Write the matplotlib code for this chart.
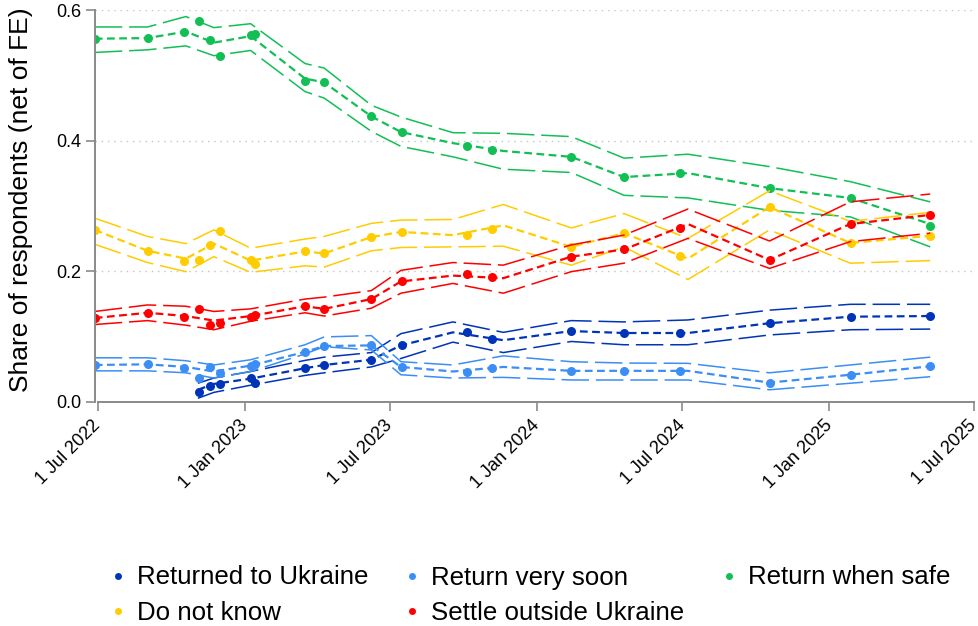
import numpy as np
import pandas as pd
import matplotlib
matplotlib.use("Agg")
import matplotlib.pyplot as plt
import matplotlib.dates as mdates
from matplotlib.lines import Line2D

plt.rcParams['font.family'] = ['Liberation Sans', 'DejaVu Sans']

# survey waves: point estimates
point_dates = ['2022-06-27', '2022-09-02', '2022-10-17', '2022-11-04', '2022-11-18',
               '2022-12-01', '2023-01-08', '2023-01-13', '2023-03-17', '2023-04-10',
               '2023-06-08', '2023-07-16', '2023-10-05', '2023-11-06', '2024-02-13',
               '2024-04-19', '2024-06-28', '2024-10-19', '2025-01-28', '2025-05-07']
returned_point_dates = point_dates[3:]

pts_safe = [0.556, 0.557, 0.567, 0.583, 0.554, 0.530, 0.562, 0.564, 0.491, 0.489,
            0.437, 0.413, 0.392, 0.385, 0.375, 0.344, 0.350, 0.327, 0.312, 0.269]
pts_dunno = [0.263, 0.231, 0.215, 0.217, 0.240, 0.262, 0.217, 0.211, 0.230, 0.227,
             0.252, 0.260, 0.255, 0.265, 0.237, 0.258, 0.223, 0.298, 0.243, 0.254]
pts_settle = [0.128, 0.136, 0.130, 0.142, 0.117, 0.121, 0.130, 0.132, 0.146, 0.142,
              0.157, 0.184, 0.196, 0.191, 0.222, 0.233, 0.266, 0.217, 0.272, 0.286]
pts_soon = [0.056, 0.058, 0.051, 0.036, 0.053, 0.044, 0.055, 0.057, 0.076, 0.085,
            0.086, 0.053, 0.045, 0.052, 0.047, 0.047, 0.047, 0.029, 0.041, 0.054]
pts_returned = [0.014, 0.024, 0.027, 0.036, 0.029, 0.051, 0.056, 0.064, 0.086,
                0.107, 0.096, 0.108, 0.105, 0.105, 0.120, 0.130, 0.131]

# fitted lines with confidence bands
line_dates = ['2022-06-27', '2022-09-01', '2022-10-19', '2022-11-23', '2023-01-08',
              '2023-03-17', '2023-04-10', '2023-06-08', '2023-07-15', '2023-09-18',
              '2023-11-20', '2024-02-13', '2024-04-19', '2024-07-08', '2024-10-18',
              '2025-01-27', '2025-05-07']
returned_line_dates = ['2022-11-03'] + line_dates[3:]

safe_mid = [0.556, 0.557, 0.567, 0.550, 0.560, 0.495, 0.489, 0.437, 0.413, 0.396,
            0.384, 0.375, 0.344, 0.350, 0.327, 0.312, 0.272]
safe_hi = [0.574, 0.574, 0.590, 0.573, 0.579, 0.518, 0.511, 0.454, 0.436, 0.412,
           0.411, 0.406, 0.373, 0.379, 0.360, 0.337, 0.306]
safe_lo = [0.535, 0.539, 0.545, 0.530, 0.538, 0.475, 0.465, 0.414, 0.391, 0.375,
           0.356, 0.351, 0.316, 0.312, 0.293, 0.283, 0.237]

dunno_mid = [0.263, 0.231, 0.219, 0.242, 0.216, 0.230, 0.227, 0.252, 0.260, 0.255,
             0.270, 0.237, 0.258, 0.219, 0.298, 0.243, 0.254]
dunno_hi = [0.281, 0.253, 0.242, 0.263, 0.235, 0.249, 0.253, 0.273, 0.278, 0.279,
            0.302, 0.266, 0.288, 0.250, 0.323, 0.276, 0.290]
dunno_lo = [0.241, 0.213, 0.199, 0.222, 0.198, 0.208, 0.206, 0.231, 0.236, 0.237,
            0.238, 0.209, 0.237, 0.187, 0.263, 0.212, 0.216]

settle_mid = [0.128, 0.136, 0.131, 0.124, 0.131, 0.146, 0.142, 0.157, 0.184, 0.193,
              0.189, 0.222, 0.233, 0.272, 0.217, 0.272, 0.286]
settle_hi = [0.138, 0.148, 0.146, 0.138, 0.142, 0.157, 0.160, 0.170, 0.201, 0.213,
             0.209, 0.240, 0.255, 0.295, 0.246, 0.306, 0.318]
settle_lo = [0.118, 0.124, 0.117, 0.110, 0.123, 0.136, 0.131, 0.143, 0.166, 0.181,
             0.166, 0.199, 0.212, 0.250, 0.204, 0.245, 0.258]

soon_mid = [0.056, 0.057, 0.053, 0.046, 0.055, 0.076, 0.085, 0.086, 0.053, 0.046,
            0.053, 0.047, 0.047, 0.047, 0.029, 0.041, 0.054]
soon_hi = [0.067, 0.067, 0.0625, 0.056, 0.064, 0.087, 0.099, 0.101, 0.061, 0.056,
           0.070, 0.061, 0.059, 0.0585, 0.044, 0.056, 0.068]
soon_lo = [0.047, 0.047, 0.044, 0.036, 0.046, 0.073, 0.084, 0.079, 0.041, 0.036,
           0.037, 0.033, 0.033, 0.033, 0.018, 0.028, 0.038]

returned_mid = [0.018, 0.027, 0.035, 0.051, 0.056, 0.064, 0.086, 0.106, 0.094, 0.108,
                0.105, 0.105, 0.120, 0.130, 0.131]
returned_hi = [0.028, 0.036, 0.046, 0.063, 0.068, 0.075, 0.104, 0.122, 0.106, 0.124,
               0.122, 0.125, 0.140, 0.149, 0.149]
returned_lo = [0.005, 0.014, 0.025, 0.040, 0.044, 0.053, 0.066, 0.091, 0.075, 0.092,
               0.087, 0.087, 0.102, 0.110, 0.111]

labels = ['Returned to Ukraine', 'Return very soon', 'Return when safe',
          'Do not know', 'Settle outside Ukraine']
colors = ['#0034B8', '#3A8EF5', '#12BF55', '#FFCC00', '#FF0000']

series = [
    (returned_line_dates, returned_mid, returned_hi, returned_lo, returned_point_dates, pts_returned),
    (line_dates, soon_mid, soon_hi, soon_lo, point_dates, pts_soon),
    (line_dates, safe_mid, safe_hi, safe_lo, point_dates, pts_safe),
    (line_dates, dunno_mid, dunno_hi, dunno_lo, point_dates, pts_dunno),
    (line_dates, settle_mid, settle_hi, settle_lo, point_dates, pts_settle),
]

fig = plt.figure(figsize=(9.79, 6.26), dpi=100)
ax = fig.add_axes([0.0967, 0.3586, 0.90, 0.6254])

start = pd.Timestamp('2022-07-01')
ax.set_xlim(start - pd.Timedelta(days=4.1), start + pd.Timedelta(days=1098))
ax.set_ylim(0, 0.6)

for y in [0.2, 0.4, 0.6]:
    ax.axhline(y, color='#c4c4c4', lw=1.0, ls=(0, (1, 3.5)), zorder=0)

for (ld, mid, hi, lo, pd_, pts), c in zip(series, colors):
    ld = pd.to_datetime(ld)
    ax.plot(ld, hi, color=c, lw=1.1, ls=(0, (18, 4.5)))
    ax.plot(ld, lo, color=c, lw=1.1, ls=(0, (18, 4.5)))
    ax.plot(ld, mid, color=c, lw=1.6, ls=(0, (3.5, 2)))
    ax.plot(pd.to_datetime(pd_), pts, 'o', color=c, ms=6.5, mec='none')

for s in ['top', 'right']:
    ax.spines[s].set_visible(False)
for s in ['left', 'bottom']:
    ax.spines[s].set_color('#8a8a8a')
    ax.spines[s].set_linewidth(1.4)
ax.spines['left'].set_bounds(0, 0.6)
ax.spines['bottom'].set_bounds(mdates.date2num(start),
                               mdates.date2num(pd.Timestamp('2025-07-01')))

ax.set_yticks([0, 0.2, 0.4, 0.6])
ax.set_yticklabels(['0.0', '0.2', '0.4', '0.6'])
xt = pd.to_datetime(['2022-07-01', '2023-01-01', '2023-07-01', '2024-01-01',
                     '2024-07-01', '2025-01-01', '2025-07-01'])
ax.set_xticks(xt)
ax.set_xticklabels(['1 Jul 2022', '1 Jan 2023', '1 Jul 2023', '1 Jan 2024',
                    '1 Jul 2024', '1 Jan 2025', '1 Jul 2025'],
                   rotation=45, ha='right', va='center', rotation_mode='anchor')
ax.tick_params(axis='both', colors='#8a8a8a', labelcolor='black', labelsize=13,
               length=6.5, width=1.2, pad=3)
ax.tick_params(axis='x', pad=9)

fig.text(21 / 979, 1 - 200 / 626, 'Share of respondents (net of FE)',
         rotation=90, ha='center', va='center', fontsize=19)

# legend, equal column widths
leg_x = [118, 412, 729, 118, 412]
leg_y = [584.5, 584.5, 584.5, 619.5, 619.5]
for lab, c, x, y in zip(labels, colors, leg_x, leg_y):
    fig.add_artist(Line2D([x / 979], [1 - (y - 9) / 626], transform=fig.transFigure,
                          marker='o', color=c, ms=5, mec='none', ls='none'))
    fig.text((x + 19) / 979, 1 - y / 626, lab, fontsize=18.6, va='baseline', ha='left')

fig.savefig('out.png', dpi=100)
